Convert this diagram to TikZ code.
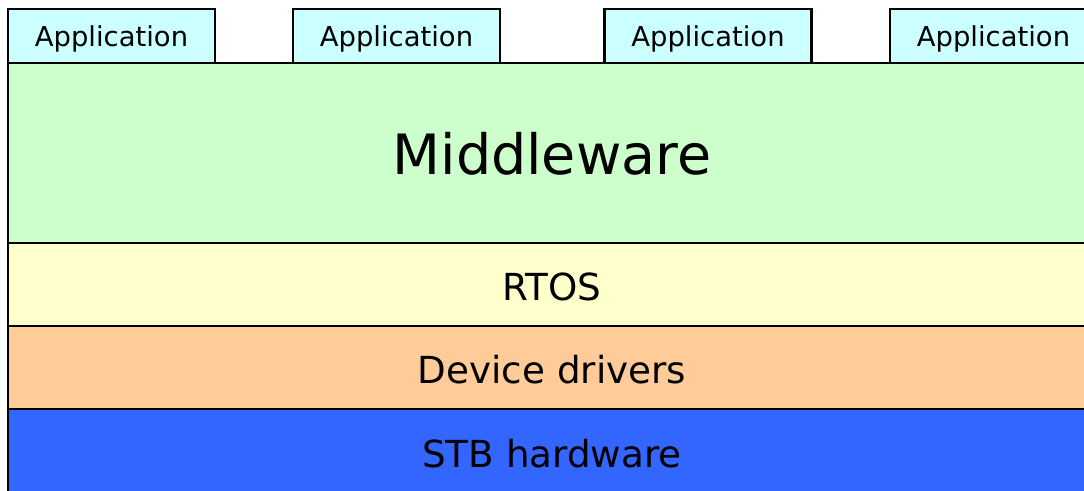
\documentclass[tikz,border=0pt]{standalone}
\usepackage{fontspec}
\setmainfont{DejaVu Sans}
\usepackage{tikz}
\usetikzlibrary{positioning}

\definecolor{appcyan}{HTML}{CCFFFF}
\definecolor{mwgreen}{HTML}{CCFFCC}
\definecolor{rtosyellow}{HTML}{FFFFCC}
\definecolor{drvorange}{HTML}{FFCC99}
\definecolor{hwblue}{HTML}{3366FF}

\begin{document}
\begin{tikzpicture}[x=0.025cm, y=-0.025cm,
    layer/.style={draw=black, line width=1.5pt, inner sep=0pt, outer sep=0pt,
        minimum width=27.2cm, text height=23pt, text depth=0pt,
        font=\fontsize{26.5}{30}\selectfont},
    app/.style={draw=black, line width=1.5pt, fill=appcyan, inner sep=0pt, outer sep=0pt,
        minimum width=5.175cm, minimum height=1.35cm, text height=20pt, text depth=4.5pt,
        font=\fontsize{19.5}{22}\selectfont}]
                        \useasboundingbox (0, 0) rectangle (1084, 491);

                        \node[layer, fill=mwgreen, minimum height=4.5cm, text height=30pt,
                            font=\fontsize{39.5}{44}\selectfont] (mw) at (552, 153) {Middleware};
                        \node[layer, fill=rtosyellow, minimum height=2.075cm] (rtos) at (552, 284.5) {RTOS};
                        \node[layer, fill=drvorange, minimum height=2.075cm] (drv) at (552, 367.5) {Device drivers};
                        \node[layer, fill=hwblue, minimum height=2.1cm] (hw) at (552, 451) {STB hardware};

                        \node[app] (app1) at (111.5, 36) {Application};
                        \node[app] (app2) at (396.5, 36) {Application};
                        \node[app] (app3) at (708, 36) {Application};
                        \node[app] (app4) at (993.5, 36) {Application};
                    \end{tikzpicture}
\end{document}
